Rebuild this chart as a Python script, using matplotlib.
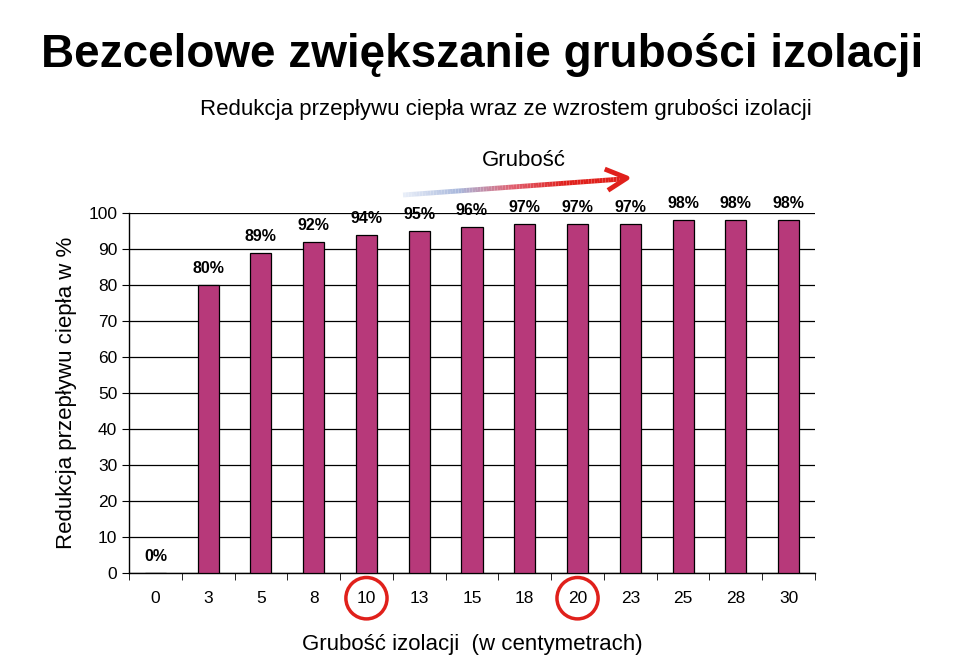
import matplotlib
matplotlib.use('Agg')
import matplotlib.pyplot as plt
import numpy as np
from matplotlib.patches import Ellipse
from matplotlib.collections import LineCollection
from matplotlib.colors import LinearSegmentedColormap
import matplotlib.transforms as mtransforms

plt.rcParams['font.family'] = ['Liberation Sans', 'DejaVu Sans']

# data
thickness = ['0', '3', '5', '8', '10', '13', '15', '18', '20', '23', '25', '28', '30']
reduction = [0, 80, 89, 92, 94, 95, 96, 97, 97, 97, 98, 98, 98]
circled = ['10', '20']

title = 'Bezcelowe zwiększanie grubości izolacji'
subtitle = 'Redukcja przepływu ciepła wraz ze wzrostem grubości izolacji'
ylabel = 'Redukcja przepływu ciepła w %'
xlabel = 'Grubość izolacji  (w centymetrach)'

fig = plt.figure(figsize=(9.59, 6.58), dpi=100)
ax = fig.add_axes([129 / 959, 1 - 573 / 658, (815 - 129) / 959, (573 - 213) / 658])

x = np.arange(len(thickness))
ax.bar(x, reduction, width=0.4, color='#B7397A', edgecolor='black', linewidth=0.9, zorder=3)

for xi, v in zip(x, reduction):
    ax.text(xi, v + 2.5, f'{v}%', ha='center', va='bottom', fontsize=11.5,
            fontweight='bold', zorder=4)

ax.set_ylim(0, 100)
ax.set_xlim(-0.5, len(thickness) - 0.5)
ax.set_yticks(range(0, 101, 10))
ax.tick_params(axis='y', labelsize=12.5, direction='out', length=5)
ax.yaxis.grid(True, color='black', linewidth=0.9, zorder=0)

# category labels centred, ticks at boundaries
ax.set_xticks(x)
ax.set_xticklabels(thickness, fontsize=12.5)
ax.tick_params(axis='x', length=0, pad=13)
ax.set_xticks(np.arange(-0.5, len(thickness)), minor=True)
ax.tick_params(axis='x', which='minor', length=5, direction='out')

for s in ['top', 'right']:
    ax.spines[s].set_visible(False)
ax.spines['left'].set_linewidth(1)
ax.spines['bottom'].set_linewidth(1)

ax.set_ylabel(ylabel, fontsize=16, labelpad=8)
ax.set_xlabel(xlabel, fontsize=16, labelpad=20)

# red circles around selected labels
trans = mtransforms.blended_transform_factory(ax.transData, ax.transAxes)
for lab in circled:
    i = thickness.index(lab)
    ax.add_patch(Ellipse((i, -0.07), 0.78, 0.115, transform=trans, fill=False,
                         edgecolor='#E0201B', linewidth=2.5, clip_on=False))

fig.text(0.503, 1 - 55 / 658, title, ha='center', va='center', fontsize=33, fontweight='bold')
fig.text(0.527, 1 - 110 / 658, subtitle, ha='center', va='center', fontsize=16)
fig.text(0.546, 1 - 160 / 658, 'Grubość', ha='center', va='center', fontsize=16)

# gradient arrow blue -> red
px = np.linspace(403, 622, 80)
py = np.linspace(195, 179, 80)
pts = np.column_stack([px / 959, 1 - py / 658])
segs = np.stack([pts[:-1], pts[1:]], axis=1)
cmap = LinearSegmentedColormap.from_list('g', ['#E8EEF8', '#A8B8DC', '#E06070', '#E0201B', '#E0201B'])
lc = LineCollection(segs, colors=cmap(np.linspace(0, 1, len(segs))), linewidth=3.5,
                    transform=fig.transFigure)
fig.add_artist(lc)
fig.add_artist(plt.Line2D([607 / 959, 627 / 959, 610 / 959],
                          [1 - 170 / 658, 1 - 178 / 658, 1 - 189 / 658],
                          color='#E0201B', linewidth=3.5, transform=fig.transFigure))

fig.savefig('out.png', dpi=100)
